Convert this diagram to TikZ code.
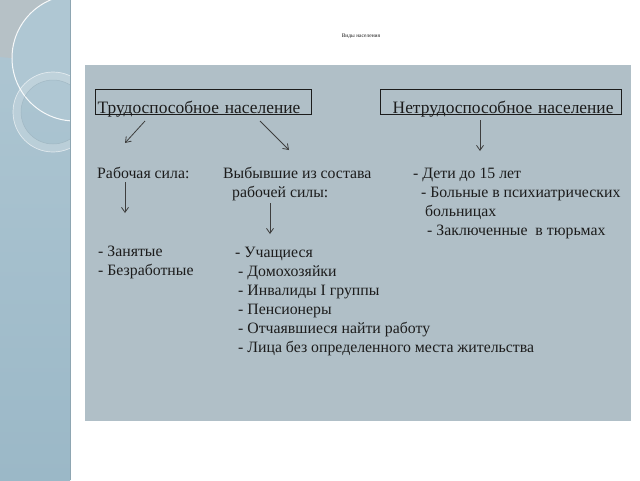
\documentclass[tikz,border=0pt]{standalone}
\usepackage{fontspec}
\setmainfont{Liberation Serif}
\usetikzlibrary{arrows.meta}
\definecolor{stripTop}{HTML}{AFC7D3}
\definecolor{stripBot}{HTML}{9BB8C7}
\definecolor{stripGray}{HTML}{B6C1C6}
\definecolor{stripEdge}{HTML}{8EA6B2}
\definecolor{panel}{HTML}{B0BFC7}
\definecolor{ink}{HTML}{1C1C1C}
\tikzset{
  txt/.style={anchor=base west, inner sep=0pt, text=ink, font=\fontsize{15.8}{18}\selectfont},
  hbox/.style={draw=ink, line width=1.4pt, anchor=north west, align=left, inner ysep=0pt,
    text height=24pt, text depth=1pt, text=ink, font=\fontsize{17.4}{19}\selectfont},
  arr/.style={draw=ink!85, line width=0.8pt, -{Straight Barb[length=5pt,width=7pt]}},
  ttl/.style={inner sep=0pt, text=ink, font=\fontsize{5.5}{6}\selectfont}
}
\begin{document}
\begin{tikzpicture}[x=1pt,y=-1pt]
\useasboundingbox (0,0) rectangle (640,480);
\fill[white] (0,0) rectangle (640,480);
% left decorative strip
\begin{scope}
  \clip (0,0) rectangle (70,480);
  \shade[top color=stripTop, bottom color=stripBot] (0,0) rectangle (70,480);
  \fill[stripGray] (15,-40) circle[radius=98];
  \fill[stripTop] (75,58) circle[radius=63];
  \draw[white, opacity=0.9, line width=1pt] (75,58) circle[radius=63];
  \fill[white, opacity=0.2, even odd rule] (53,112) circle[radius=40] (53,112) circle[radius=32];
  \draw[white, opacity=0.6, line width=0.7pt] (53,112) circle[radius=40];
  \draw[stripEdge, opacity=0.5, line width=0.5pt] (53,112) circle[radius=32];
\end{scope}
\draw[stripEdge, line width=1.2pt] (70.5,0) -- (70.5,480);
% title
\node[ttl] (title) at (361,36) {Виды населения};
% panel
\fill[panel] (85,65) rectangle (631,421);
% header boxes
\node[hbox, text width=212pt, inner xsep=2pt] (box1) at (95,89) {Трудоспособное население};
\node[hbox, text width=229pt, inner xsep=6pt] (box2) at (380,89) {\hspace*{6pt}Нетрудоспособное население};
% second level
\node[txt] (rs) at (97,178) {Рабочая сила:};
\node[txt] (vy1) at (223,178) {Выбывшие из состава};
\node[txt] (vy2) at (232,197) {рабочей силы:};
\node[txt] (n1) at (413,178) {- Дети до 15 лет};
\node[txt] (n2) at (421,197) {- Больные в психиатрических};
\node[txt] (n3) at (425,216) {больницах};
\node[txt] (n4) at (427,235) {- Заключенные\ \ в тюрьмах};
% third level
\node[txt] (z1) at (98,256) {- Занятые};
\node[txt] (z2) at (98,275) {- Безработные};
\node[txt] (u1) at (235,257) {- Учащиеся};
\node[txt] (u2) at (238,276) {- Домохозяйки};
\node[txt] (u3) at (238,295) {- Инвалиды I группы};
\node[txt] (u4) at (238,314) {- Пенсионеры};
\node[txt] (u5) at (238,333) {- Отчаявшиеся найти работу};
\node[txt] (u6) at (238,352) {- Лица без определенного места жительства};
% arrow end points
\coordinate (a1s) at (145,121);
\coordinate (a1e) at (125,143);
\coordinate (a2s) at (260,121);
\coordinate (a2e) at (289,150);
\coordinate (a3s) at (480,120);
\coordinate (a3e) at (480,151);
\coordinate (a4s) at (125,182);
\coordinate (a4e) at (125,213);
\coordinate (a5s) at (270,203);
\coordinate (a5e) at (270,234);
\draw[arr] (a1s) -- (a1e);
\draw[arr] (a2s) -- (a2e);
\draw[arr] (a3s) -- (a3e);
\draw[arr] (a4s) -- (a4e);
\draw[arr] (a5s) -- (a5e);
\end{tikzpicture}
\end{document}
